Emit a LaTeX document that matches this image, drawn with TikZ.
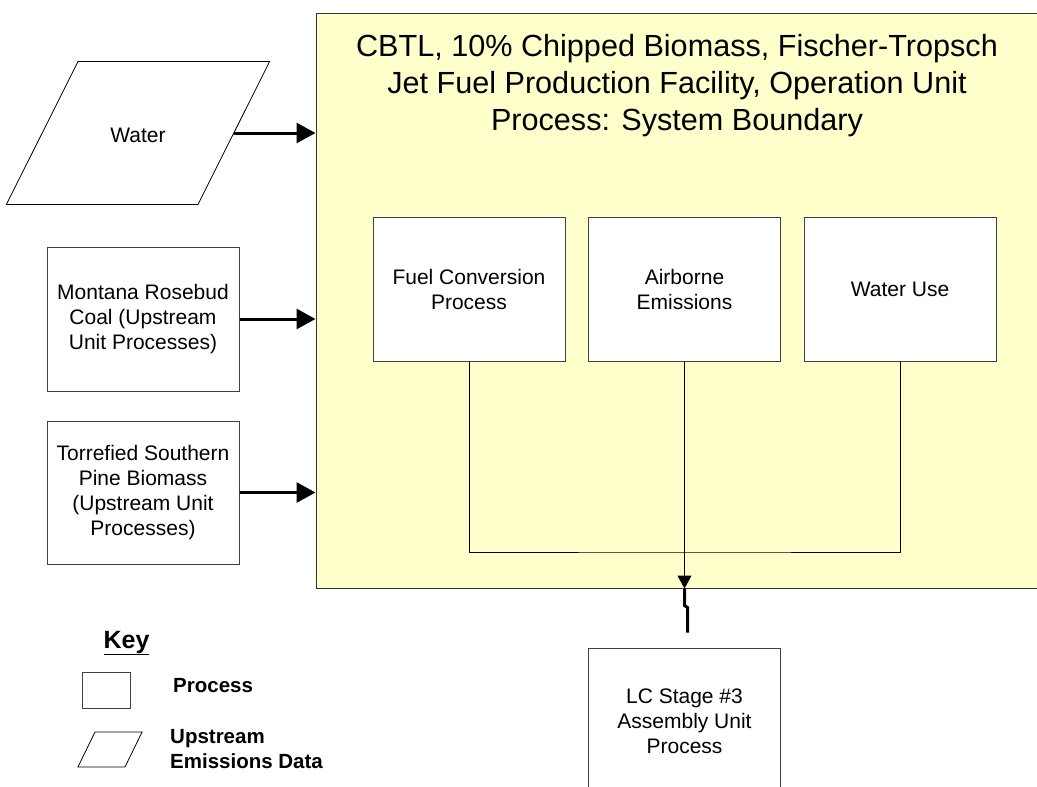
\documentclass[tikz,border=0pt]{standalone}
\usepackage{fontspec}
\setmainfont{Liberation Sans}
\usetikzlibrary{arrows.meta,shapes.geometric}
\definecolor{bndyellow}{HTML}{FFFFCC}

\begin{document}
\begin{tikzpicture}[x=1pt,y=-1pt,
  bodytext/.style={font=\fontsize{21}{25}\selectfont, align=center},
  procbox/.style={draw=black!75, line width=1pt, fill=white, minimum width=192pt, minimum height=144pt, bodytext},
  databox/.style={trapezium, trapezium left angle=63.4, trapezium right angle=116.6, draw=black, line width=0.8pt, fill=white, inner xsep=0pt},
  inarrow/.style={line width=3pt, -{Triangle[length=19pt,width=20pt]}},
  flowline/.style={line width=1pt},
  keytext/.style={font=\fontsize{20.5}{25}\selectfont\bfseries, align=left, anchor=west, inner sep=0pt}
]
  \useasboundingbox (0,0) rectangle (1037,787);

  % System boundary
  \node[draw=black!80, line width=1pt, fill=bndyellow, minimum width=722pt, minimum height=575pt, inner sep=0pt] (bnd) at (677,300.5) {};
  \node[font=\fontsize{30.6}{37}\selectfont, align=center] (title) at (677,85.5) {CBTL, 10\% Chipped Biomass, Fischer-Tropsch\\Jet Fuel Production Facility, Operation Unit\\Process: System Boundary};

  % Upstream inputs
  \node[databox, bodytext, text width=120pt, text height=19pt, text depth=1pt, inner ysep=61.5pt] (water) at (138,133) {Water};
  \node[procbox] (coal) at (143,319) {Montana Rosebud\\Coal (Upstream\\Unit Processes)};
  \node[procbox, minimum height=143pt] (pine) at (143,492.5) {Torrefied Southern\\Pine Biomass\\(Upstream Unit\\Processes)};

  \draw[inarrow] (water.east) -- (water.east -| bnd.west);
  \draw[inarrow] (coal.east) -- (coal.east -| bnd.west);
  \draw[inarrow] (pine.east) -- (pine.east -| bnd.west);

  % Processes inside the boundary
  \node[procbox] (fuel) at (469,289) {Fuel Conversion\\Process};
  \node[procbox] (air) at (684.5,289) {Airborne\\Emissions};
  \node[procbox] (wuse) at (900,289) {Water Use};

  % Merging flows
  \coordinate (merge) at (684.5,552);
  \draw[flowline] (fuel.south) |- (merge) -| (wuse.south);
  \draw[flowline, -{Triangle[length=13pt,width=14pt]}] (air.south) -- (air.south |- bnd.south);
  \draw[line width=3pt] (air.south |- bnd.south) -- ++(0,17) -- ++(3,2) -- ++(0,25);

  % Next stage
  \node[procbox, minimum height=146pt] (lc) at (684.5,721) {LC Stage \#3\\Assembly Unit\\Process};

  % Key
  \node[font=\fontsize{25}{30}\selectfont\bfseries, anchor=base, inner sep=0pt] (key) at (126.5,648) {\underline{Key}};
  \node[draw=black!75, line width=1pt, minimum width=48pt, minimum height=36pt] (keyproc) at (106,690) {};
  \node[keytext] (keyproclbl) at (173,686) {Process};
  \node[databox, trapezium left angle=64, trapezium right angle=116, text width=30pt, text height=0pt, text depth=0pt, inner ysep=17.5pt] (keydata) at (110,749.5) {};
  \node[keytext] (keydatalbl) at (170,749.5) {Upstream\\Emissions Data};
\end{tikzpicture}
\end{document}
